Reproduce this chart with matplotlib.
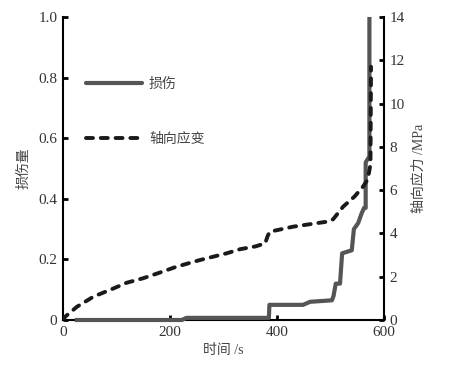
import matplotlib
matplotlib.use('Agg')
import matplotlib.pyplot as plt
from matplotlib.lines import Line2D

# damage curve (time s, damage)
time_dmg = [22, 222, 231, 385, 386, 449, 462, 503, 506, 510, 518, 522, 540,
            544, 552, 558, 563, 566, 566, 573, 573]
damage = [0, 0, 0.007, 0.007, 0.05, 0.05, 0.06, 0.065, 0.08, 0.12, 0.12, 0.22,
          0.23, 0.30, 0.32, 0.35, 0.37, 0.37, 0.52, 0.54, 1.0]

# axial curve on right axis (time s, MPa)
time_ax = [0, 4, 26, 57, 88, 119, 150, 181, 212, 256, 306, 331, 360, 378, 383,
           387, 430, 493, 505, 524, 545, 561, 570, 575, 576]
stress = [0, 0.15, 0.61, 1.08, 1.39, 1.72, 1.93, 2.19, 2.46, 2.77, 3.08, 3.27,
          3.4, 3.54, 3.9, 4.08, 4.31, 4.54, 4.65, 5.24, 5.7, 6.16, 6.5, 7.2,
          11.7]

left_ticks = [0, 0.2, 0.4, 0.6, 0.8, 1.0]
left_labels = ['0', '0.2', '0.4', '0.6', '0.8', '1.0']
right_ticks = [0, 2, 4, 6, 8, 10, 12, 14]
x_ticks = [0, 200, 400, 600]

SERIF = 'Liberation Serif'
CJK = ['Liberation Serif', 'Noto Sans CJK SC']
TICK_C = '#333333'
LAB_C = '#444444'

fig = plt.figure(figsize=(4.5, 3.69), dpi=100)
ax = fig.add_axes([0.14, 0.1328, 0.713, 0.8212])
ax2 = ax.twinx()

ax.plot(time_dmg, damage, color='#555555', lw=3.0, solid_capstyle='butt',
        clip_on=False, zorder=3)
ax2.plot(time_ax, stress, color='#1a1a1a', lw=2.8,
         linestyle=(0, (1.8, 2.0)), dash_capstyle='round', zorder=3)

ax.set_xlim(0, 600)
ax.set_ylim(0, 1.0)
ax2.set_ylim(0, 14)

for s in ['top', 'right']:
    ax.spines[s].set_visible(False)
for s in ['top', 'left', 'bottom']:
    ax2.spines[s].set_visible(False)
for a, s in [(ax, 'left'), (ax, 'bottom'), (ax2, 'right')]:
    a.spines[s].set_linewidth(1.5)

ax.set_yticks(left_ticks)
ax.set_yticklabels(left_labels)
ax.set_xticks(x_ticks)
ax2.set_yticks(right_ticks)

ax.tick_params(axis='both', direction='in', length=3.5, width=2,
               labelsize=11, labelcolor=TICK_C, pad=4)
ax2.tick_params(axis='y', direction='in', length=3.5, width=2,
                labelsize=11, labelcolor=TICK_C, pad=4)
for lab in ax.get_xticklabels() + ax.get_yticklabels() + ax2.get_yticklabels():
    lab.set_family(SERIF)

ax.set_xlabel('时间 /s', family=CJK, fontsize=10, color=LAB_C, labelpad=4)
ax.set_ylabel('损伤量', family=CJK, fontsize=10, color=LAB_C, labelpad=6)
ax2.set_ylabel('轴向应力 /MPa', family=CJK, fontsize=10, color=LAB_C, labelpad=6)

handles = [
    Line2D([], [], color='#555555', lw=3.0, solid_capstyle='round'),
    Line2D([], [], color='#1a1a1a', lw=2.8, linestyle=(0, (1.8, 2.0)),
           dash_capstyle='round'),
]
ax2.legend(handles, ['损伤', '轴向应变'], loc='upper left',
           bbox_to_anchor=(0.034, 0.84), frameon=False,
           prop={'family': CJK, 'size': 10}, labelcolor=LAB_C,
           handlelength=4.0, handletextpad=0.5, labelspacing=3.0)

fig.savefig('out.png', dpi=100)
